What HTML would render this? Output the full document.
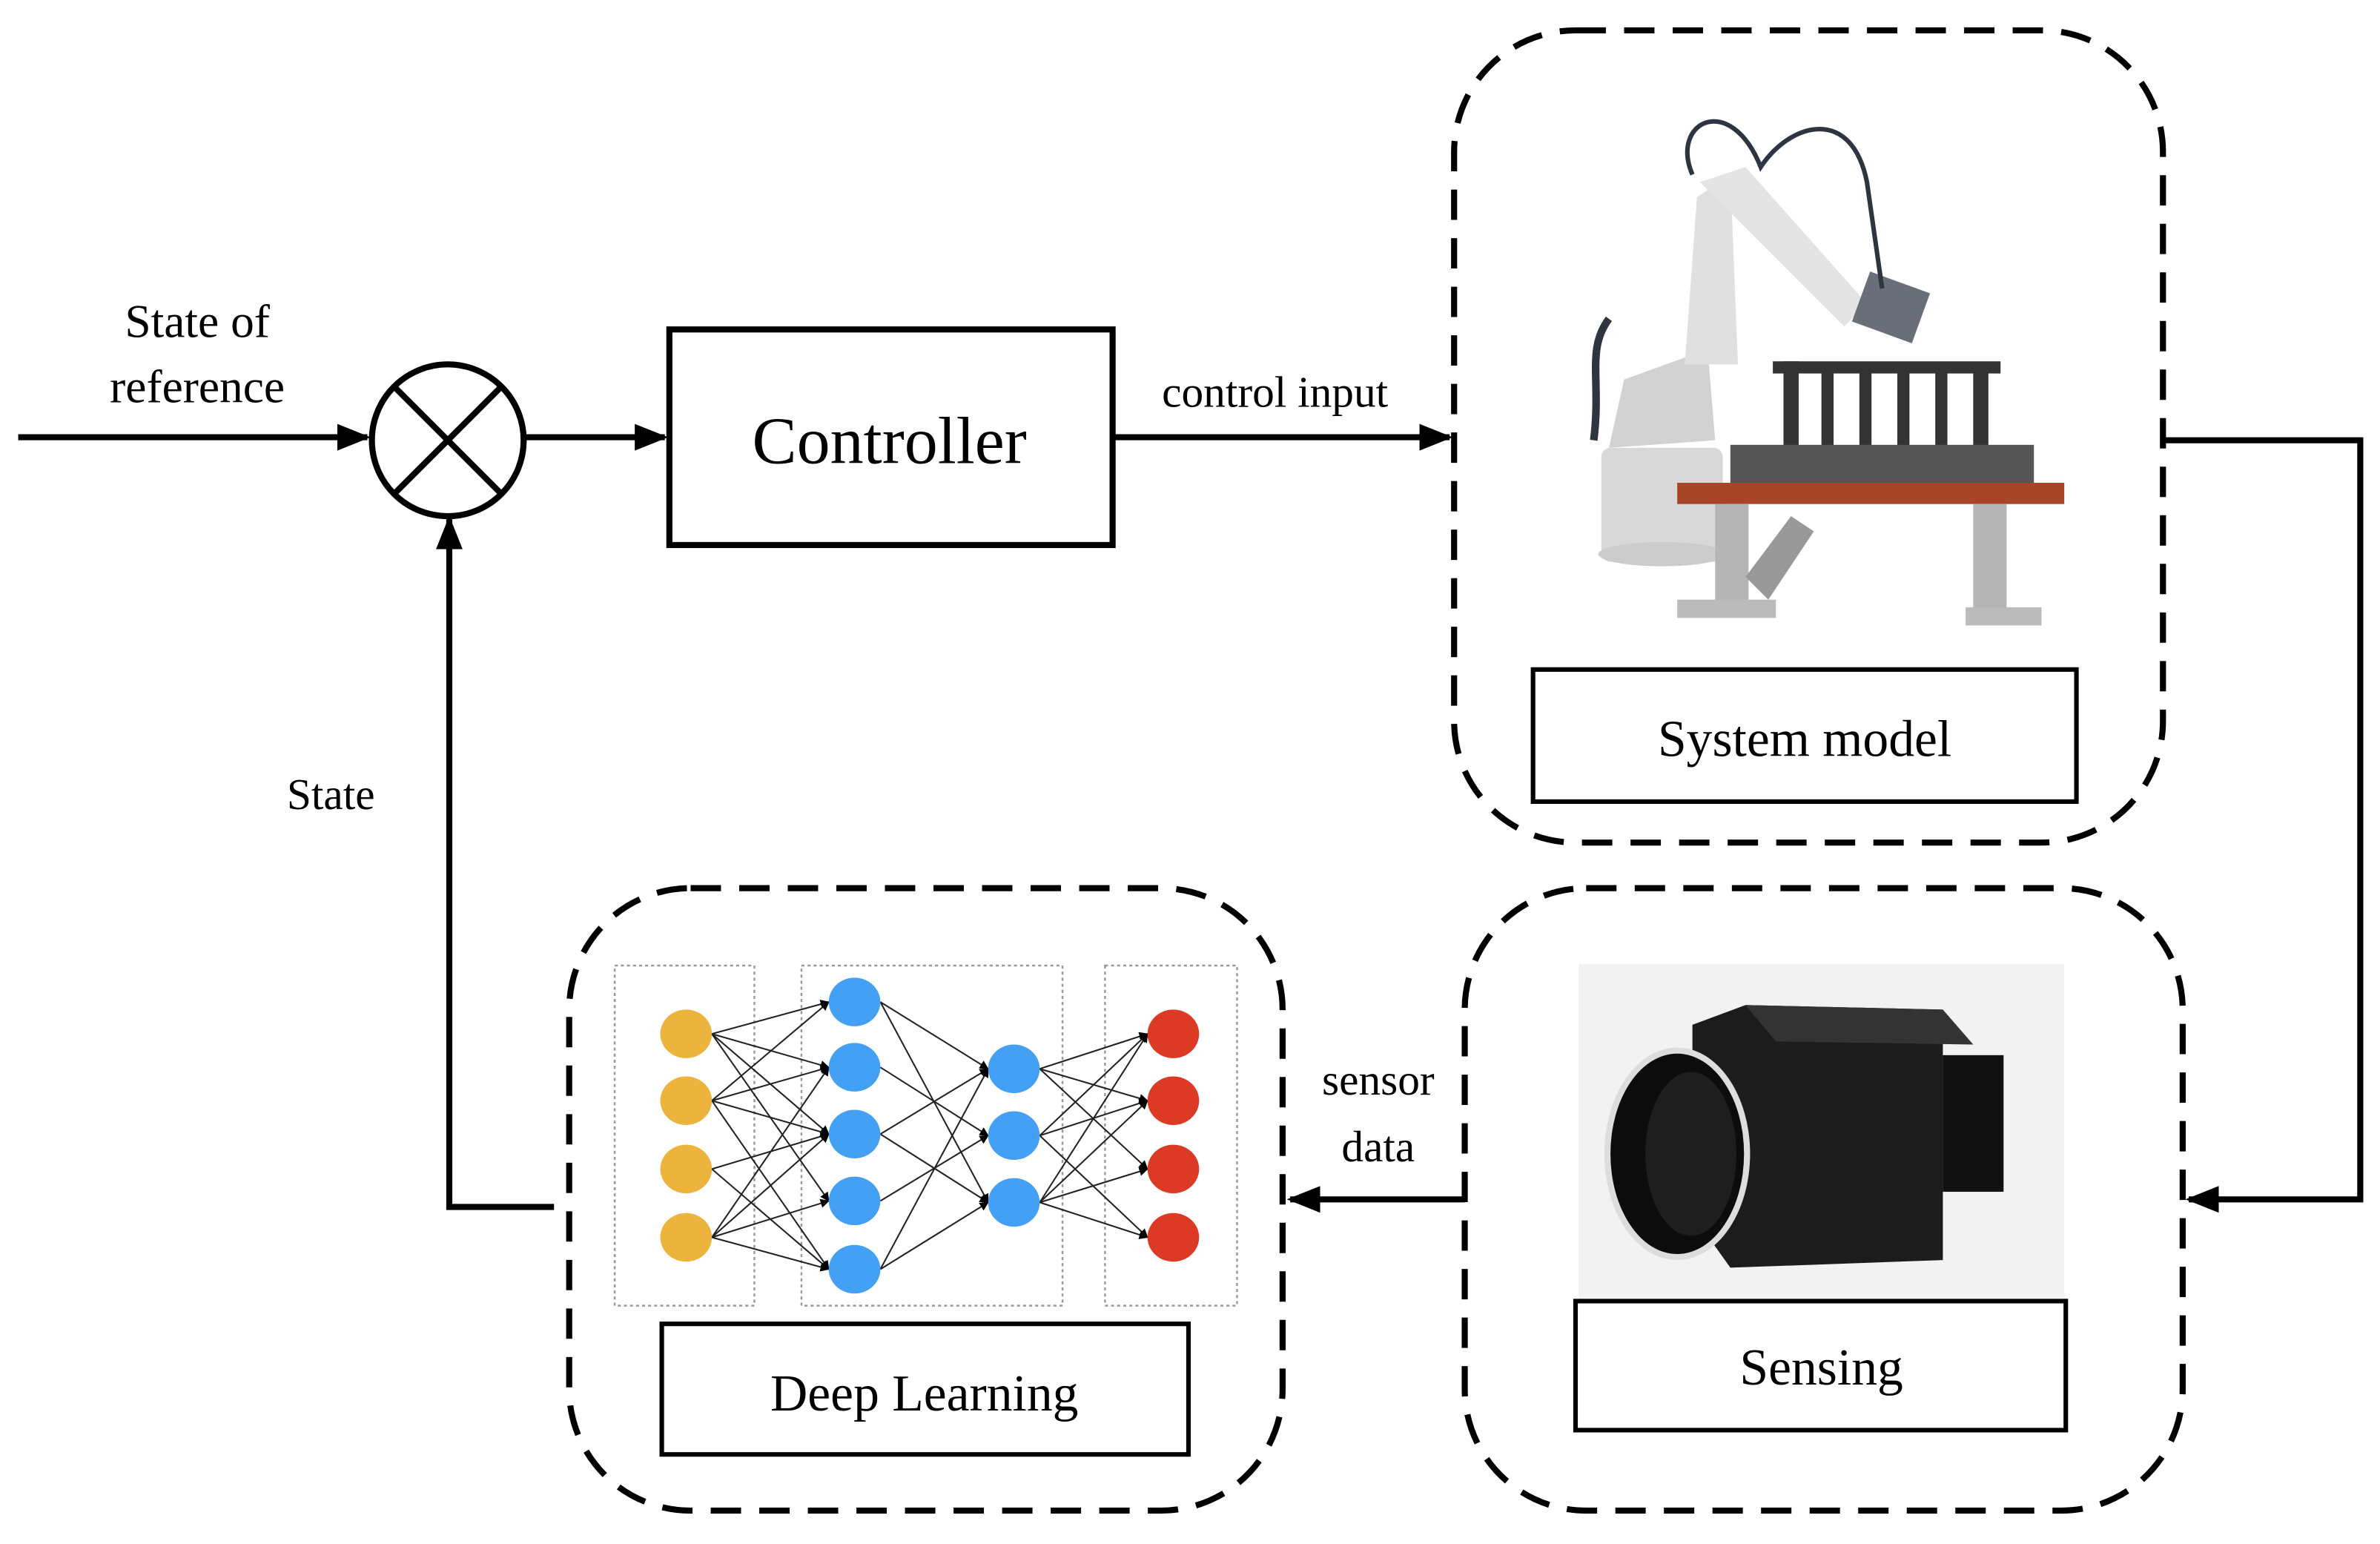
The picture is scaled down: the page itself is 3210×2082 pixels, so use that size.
<!DOCTYPE html>
<html><head><meta charset="utf-8"><style>html,body{margin:0;padding:0;background:#fff}svg{display:block}text{font-family:"Liberation Serif",serif;fill:#000}</style></head>
<body>
<svg width="3210" height="2082" viewBox="0 0 1568 1017" preserveAspectRatio="none" xmlns="http://www.w3.org/2000/svg">
<defs>
<marker id="a" viewBox="0 0 10 10" refX="9" refY="5" markerWidth="6" markerHeight="6" markerUnits="userSpaceOnUse" orient="auto"><path d="M0,0 L10,5 L0,10 z" fill="#000"/></marker>
<marker id="A" viewBox="0 0 10 10" refX="9" refY="5" markerWidth="22" markerHeight="22" markerUnits="userSpaceOnUse" orient="auto"><path d="M0,1 L10,5 L0,9 z" fill="#000"/></marker>
</defs>
<g stroke="#000" stroke-width="4" fill="none">
<line x1="12" y1="288" x2="242" y2="288" marker-end="url(#A)"/>
<circle cx="295" cy="290" r="50"/>
<line x1="260" y1="255" x2="330" y2="325"/><line x1="330" y1="255" x2="260" y2="325"/>
<line x1="345" y1="288" x2="438" y2="288" marker-end="url(#A)"/>
<rect x="441" y="217" width="292" height="142"/>
<line x1="733" y1="288" x2="955" y2="288" marker-end="url(#A)"/>
<polyline points="1425,290 1555,290 1555,790 1442,790" marker-end="url(#A)"/>
<line x1="965" y1="790" x2="850" y2="790" marker-end="url(#A)"/>
<polyline points="365,795 296,795 296,342" marker-end="url(#A)"/>
<g stroke-dasharray="20,12" stroke-width="4">
<rect x="958" y="20" width="467" height="535" rx="80"/>
<rect x="965" y="585" width="473" height="410" rx="80"/>
<rect x="375" y="585" width="470" height="410" rx="80"/>
</g>
<rect x="1010" y="441" width="358" height="87" stroke-width="3"/>
<rect x="1038" y="857" width="323" height="85" stroke-width="3"/>
<rect x="436" y="872" width="347" height="86" stroke-width="3"/>
</g>
<text x="130" y="222" font-size="31" text-anchor="middle">State of</text>
<text x="130" y="265" font-size="31" text-anchor="middle">reference</text>
<text x="586" y="305" font-size="44" text-anchor="middle">Controller</text>
<text x="840" y="268" font-size="29" text-anchor="middle">control input</text>
<text x="1189" y="498" font-size="34" text-anchor="middle">System model</text>
<text x="1200" y="912" font-size="34" text-anchor="middle">Sensing</text>
<text x="609" y="929" font-size="34" text-anchor="middle">Deep Learning</text>
<text x="908" y="721" font-size="29" text-anchor="middle">sensor</text>
<text x="908" y="765" font-size="29" text-anchor="middle">data</text>
<text x="218" y="533" font-size="29" text-anchor="middle">State</text>
<!-- NN -->
<g stroke="#999" stroke-width="1.2" stroke-dasharray="2,2" fill="none">
<rect x="405" y="636" width="92" height="224"/><rect x="528" y="636" width="172" height="224"/><rect x="728" y="636" width="87" height="224"/>
</g>
<g stroke="#222" stroke-width="1" marker-end="url(#a)">
<line x1="469" y1="681" x2="546" y2="660"/><line x1="469" y1="681" x2="546" y2="703"/><line x1="469" y1="681" x2="546" y2="747"/><line x1="469" y1="681" x2="546" y2="791"/>
<line x1="469" y1="725" x2="546" y2="660"/><line x1="469" y1="725" x2="546" y2="703"/><line x1="469" y1="725" x2="546" y2="747"/><line x1="469" y1="725" x2="546" y2="836"/>
<line x1="469" y1="770" x2="546" y2="747"/><line x1="469" y1="770" x2="546" y2="836"/>
<line x1="469" y1="815" x2="546" y2="703"/><line x1="469" y1="815" x2="546" y2="747"/><line x1="469" y1="815" x2="546" y2="791"/><line x1="469" y1="815" x2="546" y2="836"/>
<line x1="580" y1="660" x2="651" y2="704"/><line x1="580" y1="660" x2="651" y2="792"/><line x1="580" y1="703" x2="651" y2="748"/>
<line x1="580" y1="747" x2="651" y2="704"/><line x1="580" y1="747" x2="651" y2="792"/><line x1="580" y1="791" x2="651" y2="748"/>
<line x1="580" y1="836" x2="651" y2="704"/><line x1="580" y1="836" x2="651" y2="792"/>
<line x1="685" y1="704" x2="756" y2="681"/><line x1="685" y1="704" x2="756" y2="725"/><line x1="685" y1="704" x2="756" y2="770"/>
<line x1="685" y1="748" x2="756" y2="681"/><line x1="685" y1="748" x2="756" y2="725"/><line x1="685" y1="748" x2="756" y2="815"/>
<line x1="685" y1="792" x2="756" y2="681"/><line x1="685" y1="792" x2="756" y2="725"/><line x1="685" y1="792" x2="756" y2="770"/><line x1="685" y1="792" x2="756" y2="815"/>
</g>
<g fill="#ecb43c"><ellipse cx="452" cy="681" rx="17" ry="16"/><ellipse cx="452" cy="725" rx="17" ry="16"/><ellipse cx="452" cy="770" rx="17" ry="16"/><ellipse cx="452" cy="815" rx="17" ry="16"/></g>
<g fill="#44a0f4"><ellipse cx="563" cy="660" rx="17" ry="16"/><ellipse cx="563" cy="703" rx="17" ry="16"/><ellipse cx="563" cy="747" rx="17" ry="16"/><ellipse cx="563" cy="791" rx="17" ry="16"/><ellipse cx="563" cy="836" rx="17" ry="16"/>
<ellipse cx="668" cy="704" rx="17" ry="16"/><ellipse cx="668" cy="748" rx="17" ry="16"/><ellipse cx="668" cy="792" rx="17" ry="16"/></g>
<g fill="#dc3a24"><ellipse cx="773" cy="681" rx="17" ry="16"/><ellipse cx="773" cy="725" rx="17" ry="16"/><ellipse cx="773" cy="770" rx="17" ry="16"/><ellipse cx="773" cy="815" rx="17" ry="16"/></g>
<!-- Camera -->
<rect x="1040" y="635" width="320" height="220" fill="#f2f2f2"/>
<polygon points="1115,675 1150,662 1280,665 1280,830 1140,835 1115,800" fill="#1c1c1c"/>
<polygon points="1150,662 1280,665 1300,688 1170,686" fill="#333"/>
<rect x="1280" y="695" width="40" height="90" fill="#111"/>
<ellipse cx="1105" cy="760" rx="48" ry="70" fill="#ddd"/>
<ellipse cx="1105" cy="760" rx="44" ry="66" fill="#0c0c0c"/>
<ellipse cx="1114" cy="760" rx="30" ry="54" fill="#1e1e1e"/>
<!-- Robot -->
<g>
<rect x="1055" y="295" width="80" height="75" rx="6" fill="#d8d8d8"/>
<ellipse cx="1095" cy="365" rx="42" ry="8" fill="#ccc"/>
<path d="M1060 295 L1070 250 L1125 230 L1130 290 Z" fill="#d2d2d2"/>
<path d="M1110 240 L1118 130 L1140 115 L1145 240 Z" fill="#e0e0e0"/>
<path d="M1120 120 L1150 110 L1230 200 L1215 215 Z" fill="#e4e4e4"/>
<rect x="1225" y="185" width="42" height="35" fill="#6a6e78" transform="rotate(20 1246 202)"/>
<path d="M1115 115 C1100 80 1140 60 1160 110 C1180 80 1220 70 1230 120 L1240 190" stroke="#2e3440" stroke-width="3" fill="none"/>
<path d="M1060 210 C1045 230 1055 250 1050 290" stroke="#2e3440" stroke-width="5" fill="none"/>
<rect x="1168" y="238" width="150" height="8" fill="#333"/>
<g fill="#333"><rect x="1175" y="238" width="10" height="60"/><rect x="1200" y="245" width="8" height="55"/><rect x="1225" y="240" width="8" height="60"/><rect x="1250" y="245" width="8" height="55"/><rect x="1275" y="240" width="8" height="60"/><rect x="1300" y="240" width="10" height="60"/></g>
<rect x="1140" y="293" width="200" height="30" fill="#555"/>
<rect x="1105" y="318" width="255" height="14" fill="#a84428"/>
<rect x="1130" y="332" width="22" height="70" fill="#b5b5b5"/>
<rect x="1300" y="332" width="22" height="70" fill="#b5b5b5"/>
<polygon points="1150,380 1180,340 1195,350 1165,395" fill="#999"/>
<rect x="1105" y="395" width="65" height="12" fill="#bbb"/>
<rect x="1295" y="400" width="50" height="12" fill="#bbb"/>
</g>
</svg>
</body></html>
